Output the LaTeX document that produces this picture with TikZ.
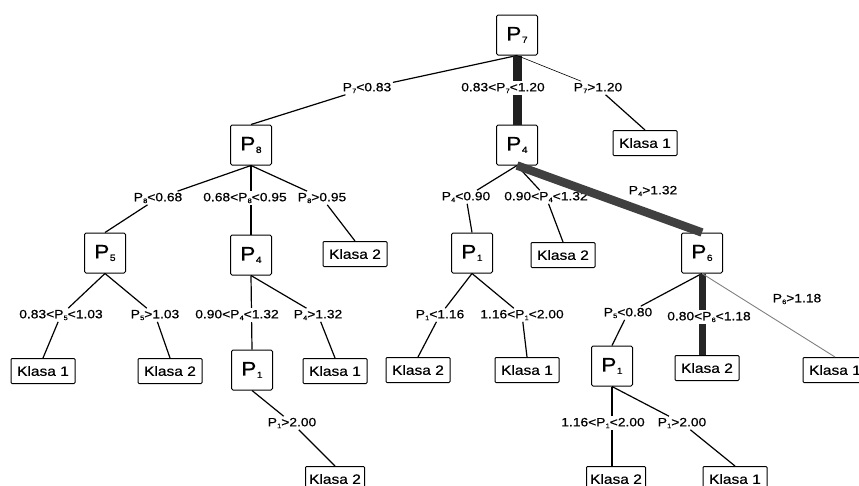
\documentclass[tikz,border=0pt]{standalone}
\usepackage{fontspec}
\setmainfont{Liberation Sans}[FakeStretch=1.15,FakeBold=0.6]
\newcommand{\lsub}[1]{P\kern0.2pt\raisebox{-1.8pt}{\fontsize{6.5}{6.5}\selectfont #1}}
\newcommand{\bsub}[1]{P\kern0.5pt\raisebox{-2.5pt}{\fontsize{9}{9}\selectfont #1}}
\tikzset{
  pbox/.style={draw, line width=1pt, rounded corners=1.5pt, minimum width=41pt, minimum height=40pt, inner sep=0pt, font=\fontsize{19.5}{19.5}\selectfont},
  kbox/.style={draw, line width=1pt, rounded corners=1pt, minimum width=64pt, minimum height=25pt, inner sep=0pt, font=\fontsize{13.5}{14}\selectfont},
  lbl/.style={inner sep=1.5pt, font=\fontsize{12}{12}\selectfont},
  lblw/.style={lbl, fill=white},
  edge/.style={line width=1.2pt},
  thinedge/.style={line width=0.6pt},
  greyedge/.style={line width=0.9pt, black!50},
  heavy/.style={line width=9pt, black!88},
  heavyg/.style={line width=8.5pt, black!75},
}
\begin{document}
\begin{tikzpicture}[x=1pt,y=-1pt]
\useasboundingbox (0,0) rectangle (859,485);
% decision nodes
\node[pbox] (P7) at (517,35) {\bsub{7}};
\node[pbox] (P8) at (251,145) {\bsub{8}};
\node[pbox] (Pfour) at (517,145) {\bsub{4}};
\node[pbox] (P5) at (105,253) {\bsub{5}};
\node[pbox] (P4b) at (251,255) {\bsub{4}};
\node[pbox] (P1a) at (472,253) {\bsub{1}};
\node[pbox] (P6) at (702,253) {\bsub{6}};
\node[pbox] (P1b) at (252,370) {\bsub{1}};
\node[pbox] (P1c) at (612,366) {\bsub{1}};
% leaves
\node[kbox] (K1a) at (645,143) {Klasa 1};
\node[kbox] (K2a) at (355,254) {Klasa 2};
\node[kbox] (K2b) at (563,255) {Klasa 2};
\node[kbox] (K1b) at (43,371) {Klasa 1};
\node[kbox] (K2c) at (170,371) {Klasa 2};
\node[kbox] (K1c) at (335,371) {Klasa 1};
\node[kbox] (K2d) at (418,370) {Klasa 2};
\node[kbox] (K1d) at (527,370) {Klasa 1};
\node[kbox] (K2e) at (707,368) {Klasa 2};
\node[kbox] (K1e) at (835,370) {Klasa 1};
\node[kbox, minimum width=59pt] (K2f) at (335,479) {Klasa 2};
\node[kbox, minimum width=59pt] (K2g) at (616,479) {Klasa 2};
\node[kbox] (K1f) at (735,479) {Klasa 1};
% labels that edges run through
\node[lbl] (l1) at (367,88) {\lsub{7}<0.83};
\node[lbl] (l3) at (598,88) {\lsub{7}>1.20};
\node[lbl] (l4) at (158,198) {\lsub{8}<0.68};
\node[lbl] (l6) at (322,198) {\lsub{8}>0.95};
\node[lbl] (l7) at (61,315) {0.83<\lsub{5}<1.03};
\node[lbl] (l8) at (155,315) {\lsub{5}>1.03};
\node[lbl] (l10) at (318,315) {\lsub{4}>1.32};
\node[lbl] (l11) at (292,423) {\lsub{1}>2.00};
\node[lbl] (l12) at (466,197) {\lsub{4}<0.90};
\node[lbl] (l13) at (546,197) {0.90<\lsub{4}<1.32};
\node[lbl] (l15) at (440,315) {\lsub{1}<1.16};
\node[lbl] (l16) at (522,315) {1.16<\lsub{1}<2.00};
\node[lbl] (l17) at (628,313) {\lsub{5}<0.80};
\node[lbl] (l21) at (682,423) {\lsub{1}>2.00};
% edges
\draw[edge] (P7.south) -- (l1) -- (P8.north);
\draw[heavy] (P7.south) -- (Pfour.north);
\draw[thinedge] (P7.south) -- (l3);
\draw[edge] (l3) -- (K1a.north);
\draw[edge] (P8.south) -- (l4) -- (P5.north);
\draw[edge] (P8.south) -- (P4b.north);
\draw[edge] (P8.south) -- (l6) -- (K2a.north);
\draw[edge] (P5.south) -- (l7) -- (K1b.north);
\draw[edge] (P5.south) -- (l8) -- (K2c.north);
\draw[edge] (P4b.south) -- (P1b.north);
\draw[edge] (P4b.south) -- (l10) -- (K1c.north);
\draw[edge] (P1b.south) -- (l11) -- (K2f.north);
\draw[edge] (Pfour.south) -- (l12) -- (P1a.north);
\draw[edge] (Pfour.south) -- (l13) -- (K2b.north);
\draw[heavyg] (Pfour.south) -- (P6.north);
\draw[edge] (P1a.south) -- (l15) -- (K2d.north);
\draw[edge] (P1a.south) -- (l16) -- (K1d.north);
\draw[edge] (P6.south) -- (l17) -- (P1c.north);
\draw[line width=7pt, black!85] (P6.south) -- (P6.south |- K2e.north);
\draw[greyedge] (P6.south) -- (K1e.north);
\draw[edge] (P1c.south) -- (P1c.south |- K2g.north);
\draw[edge] (P1c.south) -- (l21) -- (K1f.north);
% labels laid over edges
\node[lblw] (l2) at (503,88) {0.83<\lsub{7}<1.20};
\node[lblw] (l5) at (245,198) {0.68<\lsub{8}<0.95};
\node[lblw] (l9) at (237,315) {0.90<\lsub{4}<1.32};
\node[lblw] (l18) at (709,317) {0.80<\lsub{6}<1.18};
\node[lblw] (l20) at (603,423) {1.16<\lsub{1}<2.00};
% labels beside edges
\node[lbl] (l14) at (653,191) {\lsub{4}>1.32};
\node[lbl] (l19) at (797,299) {\lsub{6}>1.18};
\end{tikzpicture}
\end{document}
